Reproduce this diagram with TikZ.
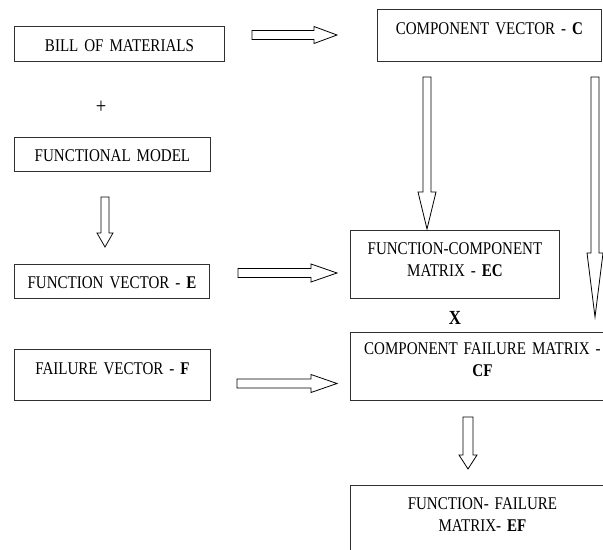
\documentclass[tikz,border=0pt]{standalone}
\usepackage{fontspec}
\setmainfont{Liberation Serif}[FakeStretch=0.84]
\usetikzlibrary{calc}
\definecolor{boxLineColor}{HTML}{303030}
\definecolor{arrowLineColor}{HTML}{000000}
\def\textBom{BILL OF MATERIALS}
\def\textComp{COMPONENT VECTOR - \textbf{C}}
\def\textModel{FUNCTIONAL MODEL}
\def\textFunc{FUNCTION VECTOR - \textbf{E}}
\def\textFail{FAILURE VECTOR - \textbf{F}}
\def\textFuncComp{FUNCTION-COMPONENT\\MATRIX - \textbf{EC}}
\def\textCompFail{COMPONENT FAILURE MATRIX -\\\textbf{CF}}
\def\textFuncFail{FUNCTION- FAILURE\\MATRIX- \textbf{EF}}
% hollow block arrows: tail, tip, shaft half, head half, head length
\newcommand{\blockRight}[5]{%
\draw[arrowLine] let \p1=(#1), \p2=(#2) in
(\x1,\y1+#3) -- (\x2-#5,\y1+#3) -- (\x2-#5,\y1+#4) -- (\x2,\y1)
-- (\x2-#5,\y1-#4) -- (\x2-#5,\y1-#3) -- (\x1,\y1-#3) -- cycle;}
\newcommand{\blockDown}[5]{%
\draw[arrowLine] let \p1=(#1), \p2=(#2) in
(\x1-#3,\y1) -- (\x1-#3,\y2+#5) -- (\x1-#4,\y2+#5) -- (\x1,\y2)
-- (\x1+#4,\y2+#5) -- (\x1+#3,\y2+#5) -- (\x1+#3,\y1) -- cycle;}
\tikzset{
box/.style={draw=boxLineColor, line width=0.9bp, rectangle, anchor=north west,
inner xsep=0pt, inner ysep=0pt, align=center,
font=\fontsize{17.9bp}{22bp}\selectfont},
sign/.style={inner sep=0pt, font=\fontsize{22bp}{24bp}\selectfont},
arrowLine/.style={draw=arrowLineColor, line width=0.8bp, fill=white}
}

\begin{document}
\begin{tikzpicture}[x=1bp,y=-1bp]

\useasboundingbox (0, 0) rectangle (603, 550);
\clip (0, 0) rectangle (603, 550);

% box layer
\begin{scope}
\node[box, text width=210bp, text height=25bp, text depth=10bp] (bom) at (14, 26) {\textBom};
\node[box, text width=224bp, text height=25bp, text depth=27bp] (comp) at (377, 9) {\textComp};
\node[box, text width=196bp, text height=24bp, text depth=10bp] (model) at (14, 137) {\textModel};
\node[box, text width=195bp, text height=24bp, text depth=10bp] (func) at (14, 264) {\textFunc};
\node[box, text width=196bp, text height=25bp, text depth=26bp] (fail) at (14, 349) {\textFail};
\node[box, text width=209bp, text height=24bp, text depth=44bp] (funcComp) at (350, 230) {\textFuncComp};
\node[box, text width=264bp, text height=22bp, text depth=46bp] (compFail) at (350, 332) {\textCompFail};
\node[box, text width=264bp, text height=24bp, text depth=59bp] (funcFail) at (350, 485) {\textFuncFail};
\end{scope}

% operator layer
\begin{scope}
\node[sign] (plus) at (101, 107) {+};
\node[sign, font=\fontsize{20bp}{22bp}\selectfont\bfseries] (times) at (455, 318) {X};
\end{scope}

% arrow ends
\coordinate (bomTail) at (252, 35);
\coordinate (bomTip) at (337, 35);
\coordinate (modelTail) at (105, 197);
\coordinate (modelTip) at (105, 247);
\coordinate (funcTail) at (238, 273);
\coordinate (funcTip) at (337, 273);
\coordinate (failTail) at (237, 383.5);
\coordinate (failTip) at (337, 383.5);
\coordinate (compTailA) at (427, 77);
\coordinate (compTipA) at (427, 229);
\coordinate (compTailB) at (595, 77);
\coordinate (compTipB) at (595, 317);
\coordinate (compFailTail) at (468, 417);
\coordinate (compFailTip) at (468, 469);

% arrow layer
\begin{scope}
\blockRight{bomTail}{bomTip}{4.5bp}{8.5bp}{23bp}
\blockRight{funcTail}{funcTip}{4.5bp}{9bp}{26bp}
\blockRight{failTail}{failTip}{4.5bp}{9bp}{26bp}
\blockDown{modelTail}{modelTip}{4bp}{8bp}{14bp}
\blockDown{compTailA}{compTipA}{4bp}{9bp}{37bp}
\blockDown{compTailB}{compTipB}{4bp}{8bp}{64bp}
\blockDown{compFailTail}{compFailTip}{5bp}{9bp}{14bp}
\end{scope}

\end{tikzpicture}
\end{document}
